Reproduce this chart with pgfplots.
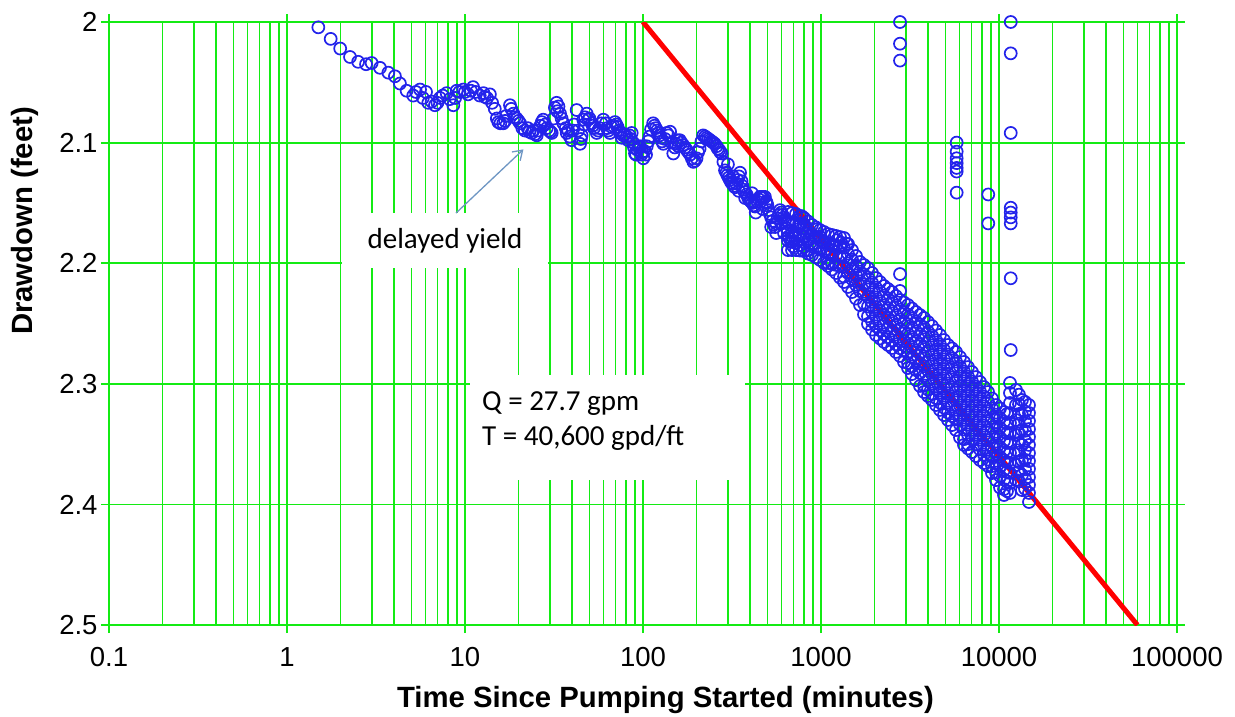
\documentclass[border=0pt]{standalone}
\usepackage{fontspec}
\setmainfont{Liberation Sans}
\newfontfamily\calibri{Carlito}
\usepackage{pgfplots}
\pgfplotsset{compat=1.18}
\usetikzlibrary{arrows.meta}
\definecolor{gridgreen}{RGB}{20,235,20}
\definecolor{ptblue}{RGB}{35,35,235}
\definecolor{arrowblue}{RGB}{110,150,195}
\begin{document}
\begin{tikzpicture}
\begin{axis}[
  at={(0,0)}, anchor=south west,
  scale only axis, width=1068pt, height=603pt,
  xmode=log, xmin=0.1, xmax=100000,
  ymin=2, ymax=2.5, y dir=reverse,
  xtick={0.1,1,10,100,1000,10000,100000},
  xticklabels={0.1,1,10,100,1000,10000,100000},
  minor xtick={0.2,0.3,0.4,0.5,0.6,0.7,0.8,0.9,2,3,4,5,6,7,8,9,20,30,40,50,60,70,80,90,200,300,400,500,600,700,800,900,2000,3000,4000,5000,6000,7000,8000,9000,20000,30000,40000,50000,60000,70000,80000,90000},
  ytick={2,2.1,2.2,2.3,2.4,2.5},
  yticklabels={2,2.1,2.2,2.3,2.4,2.5},
  grid=both,
  major grid style={gridgreen, line width=1.8pt},
  minor grid style={gridgreen, line width=1.8pt},
  axis line style={gridgreen, line width=1.8pt},
  tick style={gridgreen, line width=1.8pt},
  major tick length=8pt, minor tick length=0pt,
  tick align=outside,
  /pgf/number format/assume math mode=true,
  tick label style={font=\fontsize{27.5}{30}\selectfont},
  xticklabel style={anchor=center, yshift=-24pt},
  label style={font=\bfseries\fontsize{29.3}{33}\selectfont},
  xlabel={Time Since Pumping Started (minutes)},
  ylabel={Drawdown (feet)},
  xlabel style={at={(axis description cs:0.521,-0.124)}, anchor=center},
  ylabel style={at={(axis description cs:-0.0787,0.67)}, anchor=center},
  clip=true,
]
% Cooper-Jacob straight line
\addplot[red, line width=5pt, no marks] coordinates {(100,2.0) (59948,2.5)};
% observed drawdown
\addplot[only marks, mark=o, mark size=6pt, mark options={ptblue, line width=1.7pt}] coordinates {
(1.5,2.0044) (1.76,2.014) (1.99,2.022) (2.26,2.029) (2.51,2.033) (2.78,2.035) (2.99,2.034)
(3.33,2.038) (3.71,2.042) (4.04,2.045) (4.31,2.051) (4.70,2.057) (5.12,2.061) (5.59,2.056)
(6.04,2.058) (6.22,2.067) (6.78,2.069) (7.24,2.063) (7.89,2.059) (8.6,2.069) (8.98,2.057)
(9.79,2.056) (10.4,2.060) (11.1,2.054) (12.1,2.061) (12.7,2.059) (12.9,2.062) (13.8,2.060)
(14.7,2.072) (15.1,2.080) (15.4,2.083) (16.4,2.084) (17.0,2.078) (17.9,2.069) (18.7,2.076)
(19.5,2.080) (20.4,2.084) (21.7,2.090) (22.5,2.088) (23.7,2.092) (24.8,2.093) (25.8,2.090)
(26.5,2.086) (27.5,2.081) (28.8,2.088) (29.7,2.090) (30.7,2.092) (31.5,2.080) (32.7,2.067)
(33.5,2.070) (34.2,2.076) (35.7,2.084) (36.8,2.088) (38.0,2.090) (39.7,2.098) (41,2.085)
(42.4,2.073) (43.2,2.090) (44.3,2.101) (45.2,2.094) (46.2,2.081) (47.2,2.079) (48.3,2.076)
(50,2.080) (51.5,2.084) (53,2.088) (55.0,2.092) (57,2.088) (59.9,2.081) (61.8,2.084)
(63.9,2.090) (66.5,2.087) (69.6,2.083) (72,2.087) (74.3,2.092) (77.5,2.094) (81.0,2.095)
(84,2.094) (86.4,2.092) (88,2.100) (90.2,2.109) (93,2.106) (96.2,2.103) (98,2.110)
(100.4,2.113) (102,2.107) (105,2.103) (109,2.095) (114,2.084) (118,2.088) (122,2.092)
(126,2.096) (130,2.101) (133,2.097) (136,2.092) (142,2.091) (145,2.100) (148,2.109)
(151,2.104) (155,2.098) (158,2.103) (161,2.098) (168,2.102) (176,2.106) (184,2.110)
(192,2.116) (200,2.113) (208,2.105) (218,2.094) (228,2.096) (238,2.098) (248,2.100)
(259,2.103) (268,2.106) (277,2.109) (283,2.116) (289,2.123) (298,2.127) (308,2.131)
(318,2.134) (329,2.137) (340,2.131) (351,2.125) (358,2.132) (366,2.139) (382,2.143)
(399,2.148) (412,2.150) (426,2.153) (440,2.149) (454,2.145) (469,2.145) (484,2.145)
(500,2.152) (516,2.159) (534,2.165) (552,2.170) (570,2.163) (589,2.156) (608,2.160)
(628,2.164) (641,2.171) (655,2.178) (677,2.182) (699,2.186) (714,2.179) (730,2.172)
(754,2.167) (779,2.161) (805,2.168) (830,2.175) (858,2.180) (886,2.186) (915,2.179)
(945,2.172) (987,2.178) (1030,2.183) (1077,2.188) (1124,2.192) (1174,2.186) (1225,2.181)
(1300,2.183) (1394,2.184) (1487,2.197) (1585,2.203)
(300,2.118) (320,2.128) (345,2.140) (375,2.146) (410,2.142) (430,2.158) (470,2.155)
(495,2.150) (525,2.170) (560,2.175) (600,2.167) (620,2.175) (665,2.168) (690,2.178)
(5.3,2.058) (5.8,2.063) (6.5,2.066) (7.0,2.067) (7.5,2.061) (8.2,2.064) (8.8,2.063)
(9.3,2.058) (10.0,2.058) (10.8,2.057) (11.5,2.058) (13.3,2.063) (14.2,2.067) (15.8,2.084)
(16.8,2.082) (18.2,2.072) (19.0,2.079) (20.0,2.082) (21.0,2.088) (23.0,2.091) (24.2,2.090)
(25.3,2.094) (27.0,2.083) (28.2,2.085) (30.2,2.091) (32.0,2.071) (33.0,2.074) (34.9,2.080)
(37.3,2.092) (38.8,2.095) (40.3,2.090) (44.8,2.097) (46.8,2.085) (49.2,2.081) (52.2,2.086)
(56,2.090) (58.5,2.084) (62.8,2.088) (65.2,2.092) (68,2.086) (70.8,2.085) (73.2,2.090)
(76,2.096) (79,2.093) (82.5,2.098) (85.2,2.097) (89,2.104) (91.5,2.110) (94.6,2.104)
(99,2.108) (104,2.110) (107,2.099) (111,2.089) (116,2.086) (120,2.090) (124,2.094)
(128,2.099) (139,2.094) (153,2.101) (164,2.100) (172,2.104) (180,2.108) (188,2.113)
(196,2.115) (204,2.108) (213,2.099) (223,2.095) (233,2.097) (243,2.099) (253,2.101)
(263,2.105) (272,2.108) (294,2.125) (303,2.129) (313,2.133) (324,2.136) (335,2.134)
(346,2.128) (362,2.136) (373,2.141) (390,2.146) (405,2.149) (419,2.152) (447,2.147)
(462,2.145) (477,2.146) (492,2.149) (508,2.156) (525,2.162) (543,2.168) (561,2.167)
(580,2.160) (598,2.158) (618,2.162)
(652.6,2.1575) (652.6,2.1655) (652.6,2.1735) (652.6,2.1815) (652.6,2.1891)
(687.3,2.1584) (687.3,2.1664) (687.3,2.1744) (687.3,2.1824) (687.3,2.1891)
(723.8,2.1592) (723.8,2.1672) (723.8,2.1752) (723.8,2.1832) (723.8,2.1891)
(762.1,2.1609) (762.1,2.1689) (762.1,2.1769) (762.1,2.1849) (762.1,2.1895)
(802.6,2.1625) (802.6,2.1705) (802.6,2.1785) (802.6,2.1865) (802.6,2.1899)
(845.3,2.1654) (845.3,2.1734) (845.3,2.1814) (845.3,2.1894) (845.3,2.1920)
(890.1,2.1683) (890.1,2.1763) (890.1,2.1843) (890.1,2.1932)
(937.4,2.1704) (937.4,2.1784) (937.4,2.1864) (937.4,2.1953)
(987.2,2.1725) (987.2,2.1805) (987.2,2.1885) (987.2,2.1973)
(1039.6,2.1741) (1039.6,2.1821) (1039.6,2.1901) (1039.6,2.1998)
(1094.8,2.1758) (1094.8,2.1838) (1094.8,2.1918) (1094.8,2.1998) (1094.8,2.2023)
(1152.9,2.1766) (1152.9,2.1846) (1152.9,2.1926) (1152.9,2.2006) (1152.9,2.2052)
(1214.2,2.1774) (1214.2,2.1854) (1214.2,2.1934) (1214.2,2.2014) (1214.2,2.2081)
(1278.6,2.1783) (1278.6,2.1863) (1278.6,2.1943) (1278.6,2.2023) (1278.6,2.2119)
(1346.6,2.1791) (1346.6,2.1871) (1346.6,2.1951) (1346.6,2.2031) (1346.6,2.2111) (1346.6,2.2156)
(1418.1,2.1841) (1418.1,2.1921) (1418.1,2.2001) (1418.1,2.2081) (1418.1,2.2197)
(1493.5,2.1891) (1493.5,2.1971) (1493.5,2.2051) (1493.5,2.2131) (1493.5,2.2239)
(1572.6,2.1940) (1572.6,2.2020) (1572.6,2.2100) (1572.6,2.2180) (1572.6,2.2293)
(1656.3,2.1990) (1656.3,2.2070) (1656.3,2.2150) (1656.3,2.2230) (1656.3,2.2347)
(1744.2,2.2015) (1744.2,2.2095) (1744.2,2.2175) (1744.2,2.2255) (1744.2,2.2335) (1744.2,2.2425)
(1836.6,2.2040) (1836.6,2.2120) (1836.6,2.2200) (1836.6,2.2280) (1836.6,2.2360) (1836.6,2.2440) (1836.6,2.2504)
(1934.2,2.2081) (1934.2,2.2161) (1934.2,2.2241) (1934.2,2.2321) (1934.2,2.2401) (1934.2,2.2481) (1934.2,2.2550)
(2037,2.2123) (2037,2.2203) (2037,2.2283) (2037,2.2363) (2037,2.2443) (2037,2.2523) (2037,2.2595)
(2145,2.2156) (2145,2.2236) (2145,2.2316) (2145,2.2396) (2145,2.2476) (2145,2.2556) (2145,2.2624)
(2259,2.2189) (2259,2.2269) (2259,2.2349) (2259,2.2429) (2259,2.2509) (2259,2.2589) (2259,2.2653)
(2379,2.2214) (2379,2.2294) (2379,2.2374) (2379,2.2454) (2379,2.2534) (2379,2.2614) (2379,2.2678)
(2505,2.2239) (2505,2.2319) (2505,2.2399) (2505,2.2479) (2505,2.2559) (2505,2.2639) (2505,2.2703)
(2638,2.2272) (2638,2.2352) (2638,2.2432) (2638,2.2512) (2638,2.2592) (2638,2.2672) (2638,2.2736)
(2779,2.2305) (2779,2.2385) (2779,2.2465) (2779,2.2545) (2779,2.2625) (2779,2.2705) (2779,2.2769)
(2926,2.2326) (2926,2.2406) (2926,2.2486) (2926,2.2566) (2926,2.2646) (2926,2.2726) (2926,2.2819)
(3082,2.2347) (3082,2.2427) (3082,2.2507) (3082,2.2587) (3082,2.2667) (3082,2.2747) (3082,2.2827) (3082,2.2869)
(3245,2.2376) (3245,2.2456) (3245,2.2536) (3245,2.2616) (3245,2.2696) (3245,2.2776) (3245,2.2856) (3245,2.2919)
(3418,2.2405) (3418,2.2485) (3418,2.2565) (3418,2.2645) (3418,2.2725) (3418,2.2805) (3418,2.2885) (3418,2.2969)
(3599,2.2430) (3599,2.2510) (3599,2.2590) (3599,2.2670) (3599,2.2750) (3599,2.2830) (3599,2.2910) (3599,2.3018)
(3790,2.2454) (3790,2.2534) (3790,2.2614) (3790,2.2694) (3790,2.2774) (3790,2.2854) (3790,2.2934) (3790,2.3014) (3790,2.3068)
(3991,2.2488) (3991,2.2568) (3991,2.2648) (3991,2.2728) (3991,2.2808) (3991,2.2888) (3991,2.2968) (3991,2.3048) (3991,2.3101)
(4203,2.2521) (4203,2.2601) (4203,2.2681) (4203,2.2761) (4203,2.2841) (4203,2.2921) (4203,2.3001) (4203,2.3081) (4203,2.3134)
(4426,2.2558) (4426,2.2638) (4426,2.2718) (4426,2.2798) (4426,2.2878) (4426,2.2958) (4426,2.3038) (4426,2.3118) (4426,2.3176)
(4661,2.2595) (4661,2.2675) (4661,2.2755) (4661,2.2835) (4661,2.2915) (4661,2.2995) (4661,2.3075) (4661,2.3155) (4661,2.3217)
(4909,2.2637) (4909,2.2717) (4909,2.2797) (4909,2.2877) (4909,2.2957) (4909,2.3037) (4909,2.3117) (4909,2.3197) (4909,2.3259)
(5170,2.2678) (5170,2.2758) (5170,2.2838) (5170,2.2918) (5170,2.2998) (5170,2.3078) (5170,2.3158) (5170,2.3238) (5170,2.3300)
(5445,2.2707) (5445,2.2787) (5445,2.2867) (5445,2.2947) (5445,2.3027) (5445,2.3107) (5445,2.3187) (5445,2.3267) (5445,2.3342)
(5733,2.2736) (5733,2.2816) (5733,2.2896) (5733,2.2976) (5733,2.3056) (5733,2.3136) (5733,2.3216) (5733,2.3296) (5733,2.3383)
(6038,2.2778) (6038,2.2858) (6038,2.2938) (6038,2.3018) (6038,2.3098) (6038,2.3178) (6038,2.3258) (6038,2.3338) (6038,2.3445)
(6359,2.2819) (6359,2.2899) (6359,2.2979) (6359,2.3059) (6359,2.3139) (6359,2.3219) (6359,2.3299) (6359,2.3379) (6359,2.3459) (6359,2.3507)
(6696,2.2861) (6696,2.2941) (6696,2.3021) (6696,2.3101) (6696,2.3181) (6696,2.3261) (6696,2.3341) (6696,2.3421) (6696,2.3501) (6696,2.3536)
(7052,2.2902) (7052,2.2982) (7052,2.3062) (7052,2.3142) (7052,2.3222) (7052,2.3302) (7052,2.3382) (7052,2.3462) (7052,2.3566)
(7427,2.2944) (7427,2.3024) (7427,2.3104) (7427,2.3184) (7427,2.3264) (7427,2.3344) (7427,2.3424) (7427,2.3504) (7427,2.3599)
(7822,2.2985) (7822,2.3065) (7822,2.3145) (7822,2.3225) (7822,2.3305) (7822,2.3385) (7822,2.3465) (7822,2.3545) (7822,2.3632)
(8236,2.3027) (8236,2.3107) (8236,2.3187) (8236,2.3267) (8236,2.3347) (8236,2.3427) (8236,2.3507) (8236,2.3587) (8236,2.3657)
(8674,2.3068) (8674,2.3148) (8674,2.3228) (8674,2.3308) (8674,2.3388) (8674,2.3468) (8674,2.3548) (8674,2.3628) (8674,2.3682)
(9135,2.3122) (9135,2.3202) (9135,2.3282) (9135,2.3362) (9135,2.3442) (9135,2.3522) (9135,2.3602) (9135,2.3682) (9135,2.3740)
(9619,2.3176) (9619,2.3256) (9619,2.3336) (9619,2.3416) (9619,2.3496) (9619,2.3576) (9619,2.3656) (9619,2.3736) (9619,2.3798)
(10130,2.3205) (10130,2.3285) (10130,2.3365) (10130,2.3445) (10130,2.3525) (10130,2.3605) (10130,2.3685) (10130,2.3765) (10130,2.3860)
(10670,2.3234) (10670,2.3314) (10670,2.3394) (10670,2.3474) (10670,2.3554) (10670,2.3634) (10670,2.3714) (10670,2.3794) (10670,2.3874) (10670,2.3922)
(11090,2.3250) (11090,2.3330) (11090,2.3410) (11090,2.3490) (11090,2.3570) (11090,2.3650) (11090,2.3730) (11090,2.3810) (11090,2.3890)
(11530,2.2993) (11530,2.3076) (11530,2.3159) (11530,2.3242) (11530,2.3325) (11530,2.3408)
(11530,2.3491) (11530,2.3574) (11530,2.3657) (11530,2.3740) (11530,2.3823) (11530,2.3905)
(12460,2.3051) (12460,2.3176) (12460,2.3300) (12460,2.3425) (12460,2.3549) (12460,2.3673) (12460,2.3798)
(12950,2.3090) (12950,2.3170) (12950,2.3250) (12950,2.3330) (12950,2.3410) (12950,2.3490) (12950,2.3570) (12950,2.3650) (12950,2.3730) (12950,2.3810)
(13460,2.3134) (13460,2.3259) (13460,2.3383) (13460,2.3507) (13460,2.3632) (13460,2.3756) (13460,2.3881)
(14000,2.3150) (14000,2.3230) (14000,2.3310) (14000,2.3390) (14000,2.3470) (14000,2.3550) (14000,2.3630) (14000,2.3710) (14000,2.3790) (14000,2.3870)
(14740,2.3176) (14740,2.3242) (14740,2.3308) (14740,2.3375) (14740,2.3441) (14740,2.3507) (14740,2.3574)
(14740,2.3640) (14740,2.3706) (14740,2.3773) (14740,2.3839) (14740,2.3905) (14740,2.3980)
(2779,2.000) (2779,2.018) (2779,2.032) (2779,2.209) (2779,2.223)
(5784,2.100) (5784,2.1075) (5784,2.113) (5784,2.117) (5784,2.121) (5784,2.124) (5784,2.1415)
(8705,2.143) (8705,2.167)
(11640,2.000) (11640,2.026) (11640,2.092) (11640,2.154) (11640,2.158) (11640,2.162) (11640,2.167)
(11640,2.2125) (11640,2.272)
};
% annotation boxes
\fill[white] (axis cs:2.04,2.158) rectangle (axis cs:29.3,2.204);
\node[font=\calibri\fontsize{29}{35}\selectfont, anchor=center, inner sep=0pt] at (axis cs:7.72,2.1815) {delayed yield};
\draw[arrowblue, line width=1.3pt, -{Straight Barb[length=9pt, width=12pt]}] (axis cs:8.9,2.1584) -- (axis cs:21.3,2.1056);
\fill[white] (axis cs:10.67,2.2927) rectangle (axis cs:374,2.3798);
\node[font=\calibri\fontsize{29}{35}\selectfont, anchor=west, align=left, inner sep=0pt] at (axis cs:12.46,2.3305) {Q = 27.7 gpm\\T = 40,600 gpd/ft};
\end{axis}
\pgfresetboundingbox
\path[use as bounding box] (-109pt,-92pt) rectangle (1126pt,625pt);
\end{tikzpicture}
\end{document}
